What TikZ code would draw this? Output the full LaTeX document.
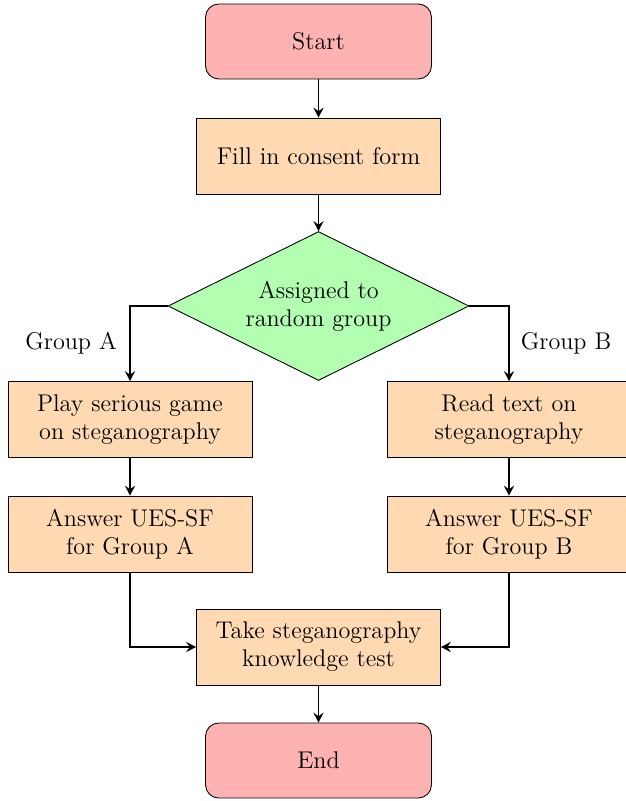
\documentclass[tikz,border=0pt]{standalone}
\usepackage{xcolor}
\usepackage{tikz}
\usetikzlibrary{shapes.geometric, arrows.meta}

\tikzset{
    startstop/.style={rectangle, rounded corners=6pt, draw, fill=red!30,
        minimum width=3.616cm, minimum height=1.2cm, align=center},
    process/.style={rectangle, draw, fill=orange!30,
        minimum width=3.904cm, minimum height=1.216cm, align=center},
    decision/.style={diamond, draw, fill=green!30, inner sep=0pt, aspect=2,
        minimum width=4.816cm, minimum height=2.384cm, align=center},
    arrow/.style={thick, -{Stealth[length=4.5pt, width=4.6pt, inset=1.6pt]}}
}

\begin{document}
\begin{tikzpicture}[x={(0.016cm,0)}, y={(0,-0.016cm)},
    font=\fontsize{11}{12.7}\selectfont]
    % Here I fix the page size
    \useasboundingbox (0,0) rectangle (626,801);

    % Here are the boxes
    \node[startstop] (start) at (318.5,41.5) {Start};
    \node[process] (form) at (318.5,156) {Fill in consent form};
    \node[decision] (assign) at (318.5,306) {Assigned to\\random group};
    \node[process] (play) at (130,419.5) {Play serious game\\on steganography};
    \node[process] (read) at (509,419.5) {Read text on\\steganography};
    \node[process] (uesA) at (130,534) {Answer UES-SF\\for Group A};
    \node[process] (uesB) at (509,534) {Answer UES-SF\\for Group B};
    \node[process] (test) at (318.5,647) {Take steganography\\knowledge test};
    \node[startstop] (stop) at (318.5,760.5) {End};

    % using node for text
    \node (labA) at (71,343) {Group A};
    \node (labB) at (566,343) {Group B};

    % Here are the arrows
    \draw[arrow] (start) -- (form);
    \draw[arrow] (form) -- (assign);
    \draw[arrow] (assign.west) -| (play);
    \draw[arrow] (assign.east) -| (read);
    \draw[arrow] (play) -- (uesA);
    \draw[arrow] (read) -- (uesB);
    \draw[arrow] (uesA) |- (test);
    \draw[arrow] (uesB) |- (test);
    \draw[arrow] (test) -- (stop);
\end{tikzpicture}
\end{document}
